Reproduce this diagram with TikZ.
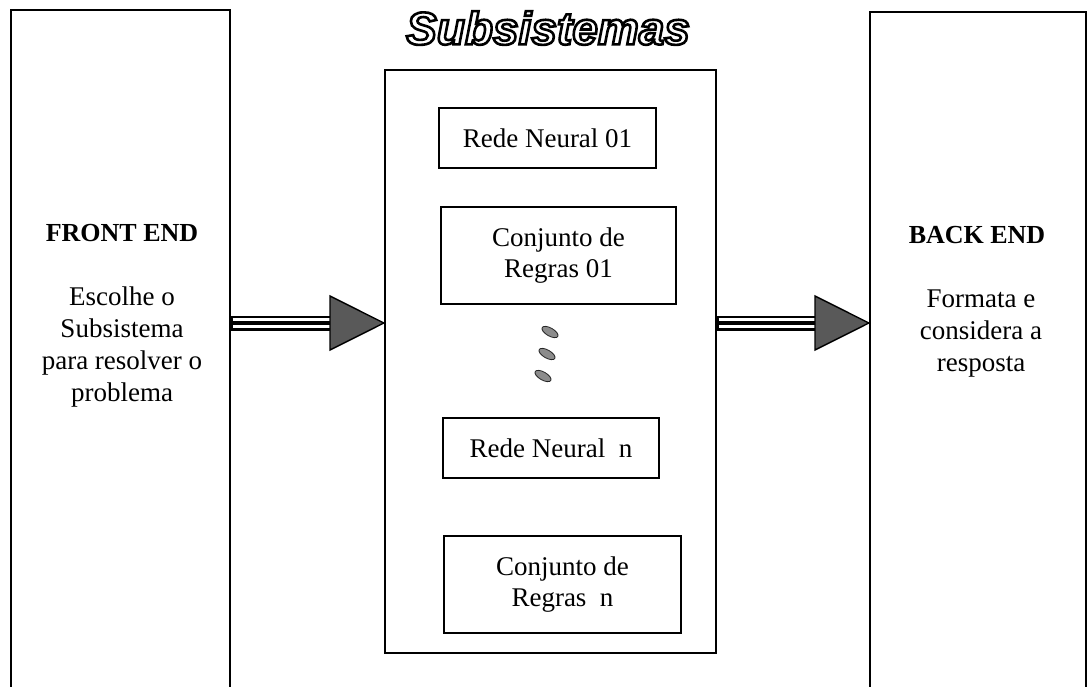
\documentclass[tikz,border=0pt]{standalone}
\usepackage{fontspec}
\setmainfont{Liberation Serif}
\newfontfamily\titlefont{Liberation Sans}
\usetikzlibrary{calc}
\newcommand{\outlinedtext}[1]{\special{pdf:literal direct 1 Tr 2.6 w}#1\special{pdf:literal direct 0 Tr}}
\tikzset{
  bigbox/.style={draw, line width=2.2pt, inner sep=0pt},
  smallbox/.style={draw, line width=2pt, inner sep=0pt, align=center,
    font=\fontsize{27}{31}\selectfont},
  txt/.style={align=center, inner sep=0pt, font=\fontsize{27}{32}\selectfont},
  hdr/.style={inner sep=0pt, font=\fontsize{26}{32}\selectfont\bfseries},
  arrowhead/.style={draw=black, line width=1.4pt, fill=black!65, line join=miter},
  dotmark/.style={draw=black!85, line width=0.8pt, fill=black!45}
}
\begin{document}
\begin{tikzpicture}[x=1pt, y=-1pt]
\useasboundingbox (0,0) rectangle (1092,686);
\fill[white] (0,0) rectangle (1092,686);
\clip (0,0) rectangle (1092,686);

% main boxes
\node[bigbox, minimum width=219pt, minimum height=690pt] (fe) at (120.5,355) {};
\node[bigbox, minimum width=331pt, minimum height=583pt] (mid) at (550.5,361.5) {};
\node[bigbox, minimum width=216pt, minimum height=688pt] (be) at (978,356) {};

% title
\node[inner sep=0pt] (title) at (548,28) {\titlefont\fontsize{46}{50}\selectfont\bfseries\itshape\outlinedtext{Subsistemas}};

% front end texts
\node[hdr] (fehdr) at (122,233) {FRONT END};
\node[txt] (fetxt) at (122,346.5) {Escolhe o\\Subsistema\\para resolver o\\problema};

% back end texts
\node[hdr] (behdr) at (977,235) {BACK END};
\node[txt] (betxt) at (981,333.5) {Formata e\\considera a\\resposta};

% inner boxes
\node[smallbox, minimum width=217pt, minimum height=60pt] (rn1) at (547.5,138) {Rede Neural 01};
\node[smallbox, minimum width=235pt, minimum height=97pt] (cr1) at (558.5,255.5) {Conjunto de\\Regras 01};
\node[smallbox, minimum width=216pt, minimum height=60pt] (rnn) at (551,448) {Rede Neural\ \ n};
\node[smallbox, minimum width=237pt, minimum height=97pt] (crn) at (562.5,584.5) {Conjunto de\\Regras\ \ n};

% ellipsis marks
\foreach \px/\py in {550/332, 547/354, 543/376}{
  \draw[dotmark, rotate around={-30:(\px,\py)}] (\px,\py) ellipse [x radius=9pt, y radius=4pt];
}

% arrows
\coordinate (ay) at (0,323);
\coordinate (lhb) at (330,323);
\coordinate (rhb) at (815,323);

\draw[line width=15pt] (fe.east|-ay) -- (lhb);
\draw[white, line width=10pt, shorten <=1.5pt] (fe.east|-ay) -- (lhb);
\draw[line width=3.5pt, shorten <=1pt] (fe.east|-ay) -- (lhb);
\draw[arrowhead] ($(lhb)+(0,-27)$) -- (mid.west|-ay) -- ($(lhb)+(0,27)$) -- cycle;

\draw[line width=15pt] (mid.east|-ay) -- (rhb);
\draw[white, line width=10pt, shorten <=1.5pt] (mid.east|-ay) -- (rhb);
\draw[line width=3.5pt, shorten <=1pt] (mid.east|-ay) -- (rhb);
\draw[arrowhead] ($(rhb)+(0,-27)$) -- (be.west|-ay) -- ($(rhb)+(0,27)$) -- cycle;
\end{tikzpicture}
\end{document}
